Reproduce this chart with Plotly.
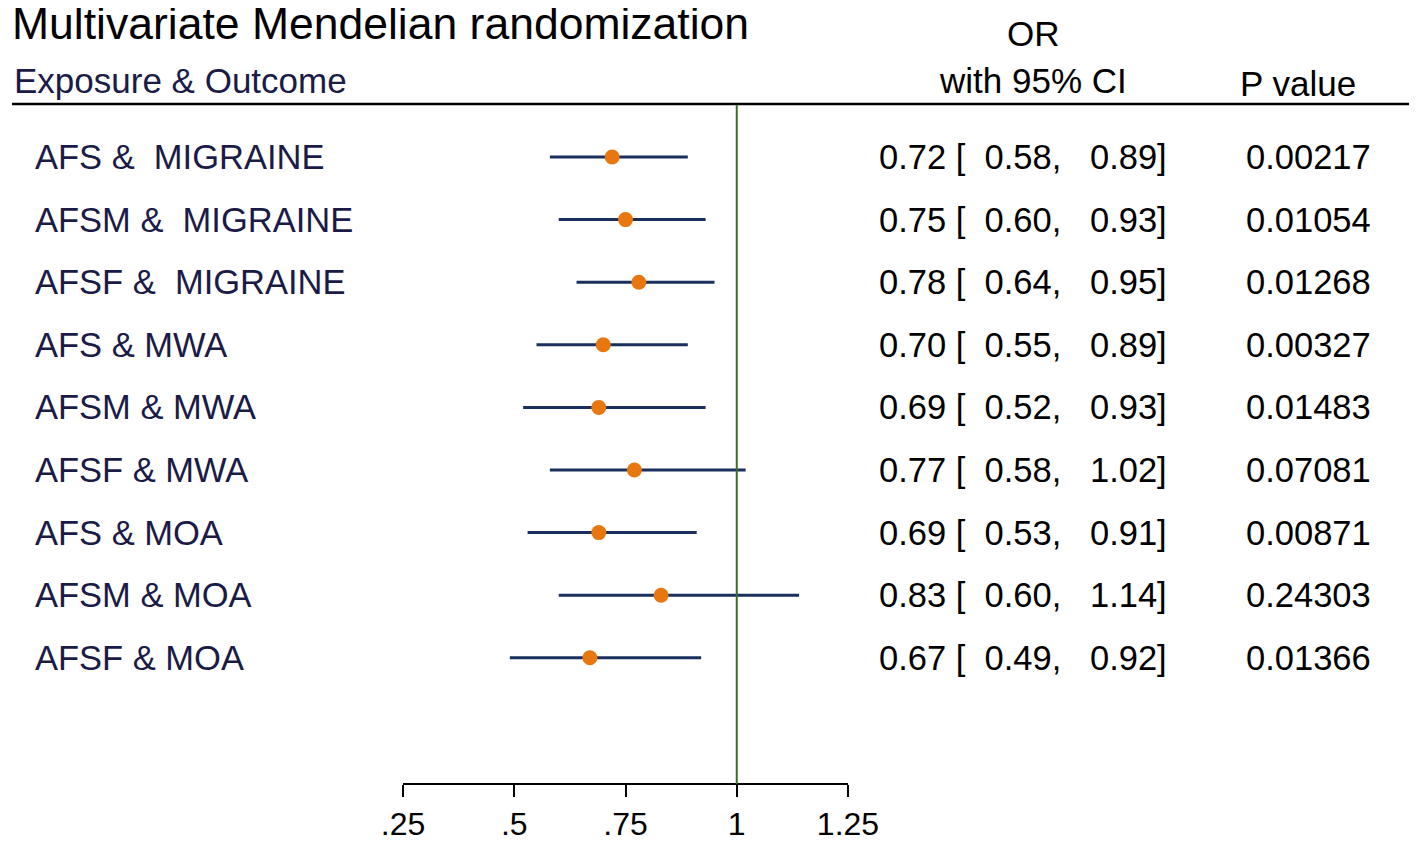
import plotly.graph_objects as go

# rows of the forest plot, top to bottom
labels = ["AFS &\u00a0 MIGRAINE", "AFSM &\u00a0 MIGRAINE", "AFSF &\u00a0 MIGRAINE",
          "AFS & MWA", "AFSM & MWA", "AFSF & MWA",
          "AFS & MOA", "AFSM & MOA", "AFSF & MOA"]
odds_ratio = [0.72, 0.75, 0.78, 0.70, 0.69, 0.77, 0.69, 0.83, 0.67]
ci_low = [0.58, 0.60, 0.64, 0.55, 0.52, 0.58, 0.53, 0.60, 0.49]
ci_high = [0.89, 0.93, 0.95, 0.89, 0.93, 1.02, 0.91, 1.14, 0.92]
p_values = ["0.00217", "0.01054", "0.01268", "0.00327", "0.01483",
            "0.07081", "0.00871", "0.24303", "0.01366"]
tick_vals = [0.25, 0.5, 0.75, 1, 1.25]
tick_text = [".25", ".5", ".75", "1", "1.25"]

# the page body has an 8px margin, so the figure is drawn 8px smaller
OFF = 8
W, H = 1417 - OFF, 842 - OFF
FONT = "Liberation Sans, Arial, sans-serif"
NAVY = "#1a2f5e"
ORANGE = "#e8770f"
GREEN = "#3b6e22"
LABEL_COL = "#1b1b48"

rows = list(range(len(labels)))
row0_px, row_step = 157 - OFF, 62.6  # pixel centre of the first row and row spacing


def px(x):
    # paper x for a page pixel
    return (x - OFF) / W


def py(y):
    # paper y for a page pixel measured from the top
    return 1 - (y - OFF) / H


fig = go.Figure()

# confidence intervals + point estimates
fig.add_trace(go.Scatter(
    x=odds_ratio, y=rows, mode="markers",
    marker=dict(color=ORANGE, size=15, line=dict(width=0)),
    error_x=dict(type="data", symmetric=False,
                 array=[h - o for h, o in zip(ci_high, odds_ratio)],
                 arrayminus=[o - l for o, l in zip(odds_ratio, ci_low)],
                 color=NAVY, thickness=3, width=0),
    showlegend=False, hoverinfo="skip",
))

annotations = []
for i in rows:
    annotations.append(dict(x=px(33), y=i, xref="paper", yref="y", text=labels[i],
                            showarrow=False, xanchor="left", yanchor="middle",
                            font=dict(family=FONT, size=34.5, color=LABEL_COL)))
    ci_txt = "%.2f [\u00a0 %.2f,\u00a0\u00a0 %.2f]" % (odds_ratio[i], ci_low[i], ci_high[i])
    annotations.append(dict(x=px(877), y=i, xref="paper", yref="y", text=ci_txt,
                            showarrow=False, xanchor="left", yanchor="middle",
                            font=dict(family=FONT, size=34.5, color="black")))
    annotations.append(dict(x=px(1244), y=i, xref="paper", yref="y", text=p_values[i],
                            showarrow=False, xanchor="left", yanchor="middle",
                            font=dict(family=FONT, size=34.5, color="black")))

# header texts
annotations += [
    dict(x=px(10), y=py(23), text="Multivariate Mendelian randomization",
         xanchor="left", font=dict(family=FONT, size=44.5, color="black")),
    dict(x=px(12), y=py(80), text="Exposure & Outcome",
         xanchor="left", font=dict(family=FONT, size=35, color=LABEL_COL)),
    dict(x=px(1033), y=py(33), text="OR",
         xanchor="center", font=dict(family=FONT, size=35, color="black")),
    dict(x=px(1033), y=py(80), text="with 95% CI",
         xanchor="center", font=dict(family=FONT, size=35, color="black")),
    dict(x=px(1298), y=py(83), text="P value",
         xanchor="center", font=dict(family=FONT, size=35, color="black")),
]
for a in annotations[-5:]:
    a.update(xref="paper", yref="paper", showarrow=False, yanchor="middle")

shapes = [
    # rule under the header
    dict(type="line", xref="paper", yref="paper", x0=px(12), x1=px(1410),
         y0=py(104), y1=py(104), line=dict(color="black", width=2.5)),
    # line of no effect
    dict(type="line", xref="x", yref="paper", x0=1, x1=1,
         y0=py(105), y1=py(784), line=dict(color=GREEN, width=2)),
]

fig.update_layout(
    width=W, height=H,
    margin=dict(l=0, r=0, t=0, b=0, pad=0, autoexpand=False),
    paper_bgcolor="white", plot_bgcolor="white",
    annotations=annotations, shapes=shapes,
    xaxis=dict(domain=[px(403), px(848)], range=[0.25, 1.25],
               tickvals=tick_vals, ticktext=tick_text,
               showline=True, linecolor="black", linewidth=1.5,
               ticks="outside", ticklen=12, tickwidth=1.5, tickcolor="black",
               showgrid=False, zeroline=False, anchor="free", position=py(784),
               automargin=False, ticklabelstandoff=0,
               tickfont=dict(family=FONT, size=32, color="black")),
    yaxis=dict(domain=[0, 1], automargin=False,
               range=[(H - row0_px) / row_step, -row0_px / row_step],
               visible=False, showgrid=False, zeroline=False),
)

fig.write_html("out.html")
